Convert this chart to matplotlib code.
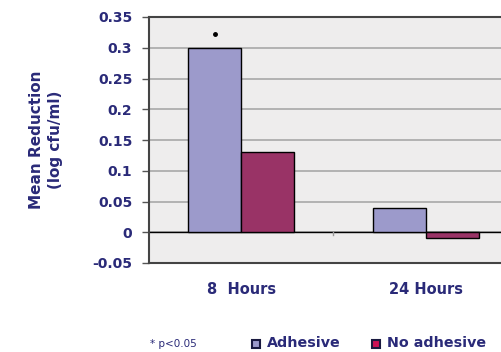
import numpy as np
import matplotlib.pyplot as plt
from matplotlib.patches import Rectangle

plt.rcParams['font.family'] = ['DejaVu Sans']

categories = ['8  Hours', '24 Hours']
adhesive = [0.30, 0.04]
no_adhesive = [0.13, -0.01]
yticks = [-0.05, 0, 0.05, 0.1, 0.15, 0.2, 0.25, 0.3, 0.35]
ytick_labels = ['-0.05', '0', '0.05', '0.1', '0.15', '0.2', '0.25', '0.3', '0.35']

text_col = '#2a2a78'
W, H = 502, 352

fig = plt.figure(figsize=(W / 100, H / 100), dpi=100)
# plot area runs past the right edge of the picture (cropped original)
ax = fig.add_axes([149 / W, 1 - 263 / H, (518 - 149) / W, (263 - 17) / H])
ax.set_facecolor('#eeeded')

x = np.arange(len(categories))
bw = 0.287
ax.bar(x - bw / 2, adhesive, bw, color='#9c9acb', edgecolor='black', linewidth=1, zorder=3)
ax.bar(x + bw / 2, no_adhesive, bw, color='#993366', edgecolor='black', linewidth=1, zorder=3)

ax.set_xlim(-0.5, 1.5)
ax.set_ylim(-0.05, 0.35)
ax.set_yticks(yticks)
ax.set_yticklabels(ytick_labels, fontsize=10, fontweight='bold', color=text_col)
ax.yaxis.grid(True, color='#a8a8a8', linewidth=1.2, zorder=0)
ax.axhline(0, color='black', linewidth=1, zorder=2)
ax.tick_params(axis='y', length=5, width=1, color='#555555', pad=7)
ax.set_xticks([])
for s in ax.spines.values():
    s.set_color('#444444')
    s.set_linewidth(1.5)

# small tick between categories on zero line
ax.plot([0.5, 0.5], [0, -0.004], color='#999999', linewidth=1, zorder=2)

# significance marker
ax.plot(x[0] - bw / 2, 0.322, 'o', color='black', markersize=2.5, zorder=4)

for xi, lab in zip(x, categories):
    ax.text(xi, -0.0935, lab, ha='center', va='center', fontsize=10.5, fontweight='bold',
            color=text_col)

fig.text(46 / W, 1 - 140 / H, 'Mean Reduction\n(log cfu/ml)', rotation=90,
         ha='center', va='center', fontsize=11, fontweight='bold', color=text_col,
         linespacing=1.3)

# legend row
fig.text(150 / W, 1 - 344 / H, '* p<0.05', ha='left', va='center', fontsize=7.5,
         color=text_col)
fig.patches.append(Rectangle((252 / W, 1 - 348 / H), 8 / W, 8 / H, transform=fig.transFigure,
                             facecolor='#9c9acb', edgecolor='#1a1a40', linewidth=1.5))
fig.text(267 / W, 1 - 343 / H, 'Adhesive', ha='left', va='center', fontsize=10.3,
         fontweight='bold', color=text_col)
fig.patches.append(Rectangle((372 / W, 1 - 348 / H), 8 / W, 8 / H, transform=fig.transFigure,
                             facecolor='#cc1155', edgecolor='#1a1a40', linewidth=1.5))
fig.text(387 / W, 1 - 343 / H, 'No adhesive', ha='left', va='center', fontsize=10.3,
         fontweight='bold', color=text_col)

fig.savefig('out.png', dpi=100)
